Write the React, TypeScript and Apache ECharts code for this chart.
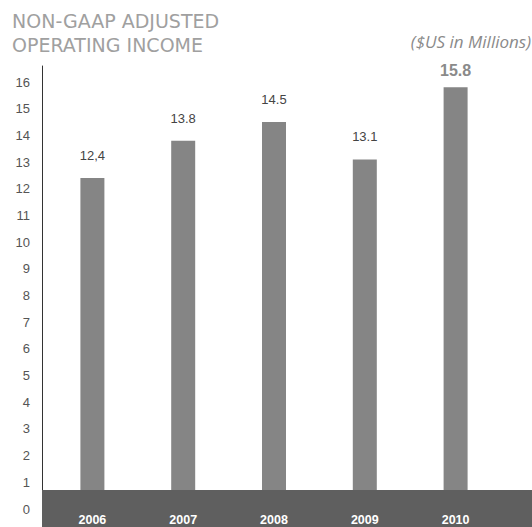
import React, { useEffect, useRef } from "react";
import * as echarts from "echarts";

const years = ["2006", "2007", "2008", "2009", "2010"];
const values = [12.4, 13.8, 14.5, 13.1, 15.8];
const valueLabels = ["12,4", "13.8", "14.5", "13.1", "15.8"];
const titleLines = ["NON-GAAP ADJUSTED", "OPERATING INCOME"];
const unitText = "($US in Millions)";

export default function App() {
  const ref = useRef<HTMLDivElement>(null);
  useEffect(() => {
    if (!ref.current) return;
    const chart = echarts.init(ref.current, undefined, { renderer: "svg" });
    const last = values.length - 1;
    chart.setOption({
      animation: false,
      backgroundColor: "#ffffff",
      title: [
        {
          text: titleLines.join("\n"),
          left: 12,
          top: 9,
          padding: 0,
          textStyle: {
            fontFamily: "DejaVu Sans",
            fontSize: 19,
            fontWeight: "normal",
            color: "#a0a0a0",
            lineHeight: 24,
          },
        },
        {
          text: unitText,
          right: 1,
          top: 33,
          padding: 0,
          textStyle: {
            fontFamily: "Open Sans",
            fontStyle: "italic",
            fontSize: 17,
            fontWeight: "normal",
            color: "#8a8a8a",
          },
        },
      ],
      grid: { left: 47, right: 31, top: 66, bottom: 18, containLabel: false },
      graphic: [
        {
          type: "rect",
          z: 5,
          shape: { x: 42, y: 490, width: 490, height: 37 },
          style: { fill: "#5f5f5f" },
        },
      ],
      xAxis: {
        type: "category",
        data: years,
        z: 10,
        axisLine: { show: false },
        axisTick: { show: false },
        axisLabel: {
          margin: 4,
          color: "#ffffff",
          fontWeight: "bold",
          fontSize: 12.5,
          fontFamily: "Liberation Sans",
        },
      },
      yAxis: {
        type: "value",
        min: 0,
        max: 16.6,
        interval: 1,
        offset: 5,
        axisLine: { show: true, lineStyle: { color: "#333333", width: 1 } },
        axisTick: { show: false },
        splitLine: { show: false },
        axisLabel: {
          margin: 12,
          color: "#555555",
          fontSize: 13,
          fontFamily: "Liberation Sans",
          formatter: (v: number) => (v > 16 ? "" : String(v)),
        },
      },
      series: [
        {
          type: "bar",
          barWidth: 24,
          data: values.map((v, i) => ({
            value: v,
            label: {
              show: true,
              position: "top",
              distance: i === last ? 9 : 16,
              formatter: valueLabels[i],
              fontFamily: "Liberation Sans",
              fontSize: i === last ? 16 : 13,
              fontWeight: i === last ? "bold" : "normal",
              color: i === last ? "#8a8a8a" : "#444444",
            },
          })),
          itemStyle: { color: "#858585" },
        },
      ],
    });
    return () => chart.dispose();
  }, []);
  return (
    <div
      ref={ref}
      style={{ position: "absolute", left: 0, top: 0, width: 532, height: 527 }}
    />
  );
}
